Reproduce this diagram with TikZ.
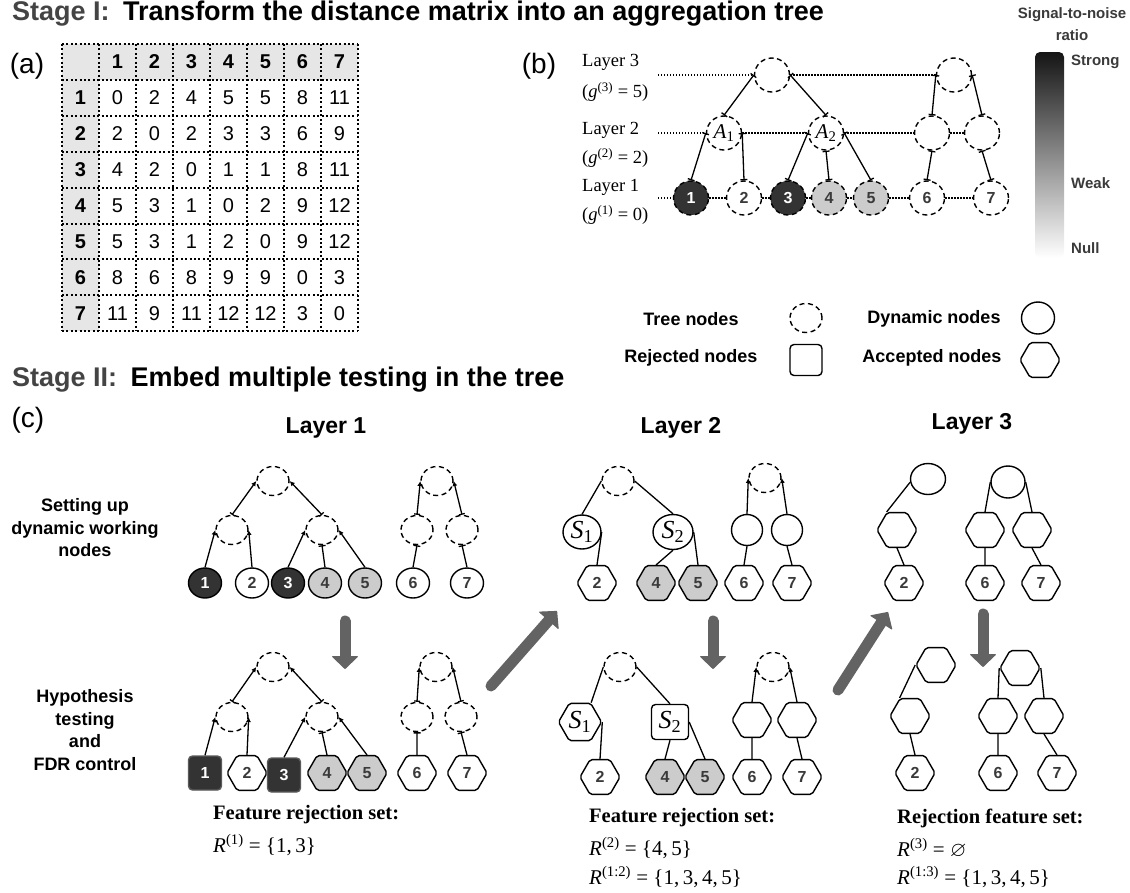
\documentclass[tikz,border=0pt]{standalone}
\usepackage{amsmath}
\usepackage{amssymb}
\usepackage{fontspec}
\setmainfont{Liberation Serif}
\setsansfont{Liberation Sans}
\usepackage{tikz}
\usetikzlibrary{shapes.geometric,arrows.meta}

\definecolor{hic}{HTML}{333333}
\definecolor{loc}{HTML}{CCCCCC}
\definecolor{stagec}{HTML}{444444}
\definecolor{headc}{HTML}{E6E6E6}
\definecolor{arrowc}{HTML}{636363}
\definecolor{numc}{HTML}{3A3A3A}
\definecolor{rejc}{HTML}{5A5A5A}

\tikzset{
  treenode/.style={ellipse, draw, line width=1.4pt, dash pattern=on 5pt off 3.5pt, minimum width=32pt, minimum height=29pt, inner sep=0pt},
  btree/.style={treenode, minimum width=35pt, minimum height=34pt},
  dynnode/.style={ellipse, draw, line width=1.4pt, minimum width=33pt, minimum height=30pt, inner sep=0pt},
  rejnode/.style={rectangle, draw, rounded corners=4pt, line width=1.4pt, minimum width=33pt, minimum height=34pt, inner sep=0pt},
  accnode/.style={regular polygon, regular polygon sides=6, draw, rounded corners=2pt, line width=1.4pt, minimum size=40pt, inner sep=0pt},
  num/.style={font=\sffamily\bfseries\fontsize{16}{16}\selectfont, text=numc},
  hisnr/.style={fill=hic, text=white},
  losnr/.style={fill=loc},
  bedge/.style={line width=1.3pt, {Bar[width=7pt]}-{Bar[width=7pt]}},
  upedge/.style={line width=1.3pt, -{Latex[length=5pt,width=5pt]}},
  upbar/.style={line width=1.3pt, {Bar[width=6pt]}-{Latex[length=5pt,width=5pt]}},
  teeedge/.style={line width=1.3pt, -{Bar[width=7pt]}},
  link/.style={line width=1.3pt},
  dotline/.style={line width=1.3pt, dash pattern=on 1.3pt off 1.7pt},
  dotgrid/.style={line width=2pt, dash pattern=on 2pt off 2.4pt},
  bigarrow/.style={draw=arrowc, line width=11pt, line cap=round, -{Triangle[length=13pt,width=27pt,line width=1pt,round,fill=arrowc]}},
  ttl/.style={font=\sffamily\bfseries\fontsize{27}{30}\selectfont, anchor=west, inner sep=0pt},
  panel/.style={font=\sffamily\fontsize{28}{30}\selectfont, inner sep=0pt},
  hdr/.style={font=\sffamily\bfseries\fontsize{23}{26}\selectfont, inner sep=0pt},
  side/.style={font=\sffamily\bfseries\fontsize{18}{22.5}\selectfont, align=center, inner sep=0pt},
  leg/.style={font=\sffamily\bfseries\fontsize{18}{20}\selectfont, inner sep=0pt},
  snr/.style={font=\sffamily\bfseries\fontsize{15}{22}\selectfont, text=numc, inner sep=0pt},
  lay/.style={font=\fontsize{18.5}{20}\selectfont, anchor=west, inner sep=0pt},
  rset/.style={font=\bfseries\fontsize{20.5}{22}\selectfont, anchor=west, inner sep=0pt},
  rmath/.style={font=\fontsize{21}{22}\selectfont, anchor=west, inner sep=0pt},
  cell/.style={font=\sffamily\fontsize{20}{22}\selectfont, inner sep=0pt},
  headcell/.style={font=\sffamily\bfseries\fontsize{20}{22}\selectfont, inner sep=0pt},
  mathlbl/.style={font=\fontsize{21}{21}\selectfont},
  bigmath/.style={font=\fontsize{26}{26}\selectfont}
}

\begin{document}
\begin{tikzpicture}[x=1pt, y=-1pt]
    \useasboundingbox (0,0) rectangle (1130,892);

    % 1. Titles and panel letters
    \node[ttl] (stage1) at (12,14) {\textcolor{stagec}{Stage I:}\enspace Transform the distance matrix into an aggregation tree};
    \node[ttl] (stage2) at (12,380) {\textcolor{stagec}{Stage II:}\enspace Embed multiple testing in the tree};
    \node[panel] (pa) at (27,66) {(a)};
    \node[panel] (pb) at (539,66) {(b)};
    \node[panel] (pc) at (28,420) {(c)};

    % 2. Distance matrix (a)
    \fill[headc] (62,44) rectangle (358,80);
    \fill[headc] (62,44) rectangle (99,331);
    \foreach \i in {1,...,7} {
        \node[headcell] (col\i) at ({80.5+37*\i},62) {\i};
        \node[headcell] (row\i) at (80.5,{62+35.9*\i}) {\i};
    }
    \foreach \row [count=\r] in {{0,2,4,5,5,8,11},{2,0,2,3,3,6,9},{4,2,0,1,1,8,11},{5,3,1,0,2,9,12},{5,3,1,2,0,9,12},{8,6,8,9,9,0,3},{11,9,11,12,12,3,0}} {
        \foreach \v [count=\c] in \row {
            \node[cell] (m\r\c) at ({80.5+37*\c},{62+35.9*\r}) {\v};
        }
    }
    \foreach \k in {0,...,8} {
        \draw[dotgrid] ({62+37*\k},44) -- ({62+37*\k},331);
        \draw[dotgrid] (62,{44+35.9*\k}) -- (358,{44+35.9*\k});
    }

    % 3. Aggregation tree (b)
    \node[lay] (lay3) at (582,62) {Layer 3};
    \node[lay] (gg3) at (582,92) {(\textit{g}\textsuperscript{(3)} = 5)};
    \node[lay] (lay2) at (582,130) {Layer 2};
    \node[lay] (gg2) at (582,158) {(\textit{g}\textsuperscript{(2)} = 2)};
    \node[lay] (lay1) at (582,187) {Layer 1};
    \node[lay] (gg1) at (582,215) {(\textit{g}\textsuperscript{(1)} = 0)};
    \coordinate (d3) at (658,75);
    \coordinate (d2) at (658,133);
    \coordinate (d1) at (658,198);

    \node[btree] (bt1) at (772,75) {};
    \node[btree] (bt2) at (954,75) {};
    \node[btree, mathlbl] (ba1) at (724,133) {\textit{A}\textsubscript{1}};
    \node[btree, mathlbl] (ba2) at (826,133) {\textit{A}\textsubscript{2}};
    \node[btree] (bb1) at (932,133) {};
    \node[btree] (bb2) at (982,133) {};
    \node[btree, num, hisnr] (bn1) at (691,198) {1};
    \node[btree, num] (bn2) at (744,198) {2};
    \node[btree, num, hisnr] (bn3) at (788,198) {3};
    \node[btree, num, losnr] (bn4) at (829,198) {4};
    \node[btree, num, losnr] (bn5) at (871,198) {5};
    \node[btree, num] (bn6) at (927,198) {6};
    \node[btree, num] (bn7) at (991,198) {7};

    \draw[dotline] (d3) -- (bt1) -- (bt2);
    \draw[dotline] (d2) -- (ba1) -- (ba2) -- (bb1) -- (bb2);
    \draw[dotline] (d1) -- (bn1) -- (bn2) -- (bn3) -- (bn4) -- (bn5) -- (bn6) -- (bn7);

    \draw[bedge] (ba1.north) -- (bt1.west);
    \draw[bedge] (ba2.north) -- (bt1.east);
    \draw[bedge] (bb1.north) -- (bt2.west);
    \draw[bedge] (bb2.north) -- (bt2.east);
    \draw[bedge] (bn1.north) -- (ba1.west);
    \draw[bedge] (bn2.north) -- (ba1.east);
    \draw[bedge] (bn3.north) -- (ba2.west);
    \draw[bedge] (bn4.north) -- (ba2.south);
    \draw[bedge] (bn5.north) -- (ba2.east);
    \draw[bedge] (bn6.north) -- (bb1.south);
    \draw[bedge] (bn7.north) -- (bb2.south);

    % 4. Signal-to-noise bar
    \node[snr, align=center] (snrlbl) at (1072,24) {Signal-to-noise\\ratio};
    \shade[top color=black!92, bottom color=white, rounded corners=5pt] (1035,52) rectangle (1064,258);
    \node[snr, anchor=west] (strong) at (1071,62) {Strong};
    \node[snr, anchor=west] (weak) at (1071,183) {Weak};
    \node[snr, anchor=west] (null) at (1071,248) {Null};

    % 5. Legend
    \node[leg] (lgtree) at (691,319) {Tree nodes};
    \node[treenode] (lgtreeshape) at (806,318) {};
    \node[leg] (lgrej) at (691,358) {Rejected nodes};
    \node[rejnode, minimum width=32pt, minimum height=31pt] (lgrejshape) at (806,360) {};
    \node[leg] (lgdyn) at (934,319) {Dynamic nodes};
    \node[dynnode, minimum width=33pt, minimum height=32pt] (lgdynshape) at (1038,318) {};
    \node[leg] (lgacc) at (932,358) {Accepted nodes};
    \node[accnode] (lgaccshape) at (1040,360) {};

    % 6. Stage II headings
    \node[hdr] (hl1) at (326,428) {Layer 1};
    \node[hdr] (hl2) at (681,428) {Layer 2};
    \node[hdr] (hl3) at (972,424) {Layer 3};
    \node[side] (setup) at (85,528) {Setting up\\dynamic working\\nodes};
    \node[side] (hyp) at (85,730) {Hypothesis\\testing\\and\\FDR control};

    % 7. Layer 1: dynamic nodes
    \node[treenode] (t1r) at (273,481) {};
    \node[treenode] (t1a) at (232,530) {};
    \node[treenode] (t1b) at (322,530) {};
    \node[treenode] (t1s) at (437,481) {};
    \node[treenode] (t1c) at (417,530) {};
    \node[treenode] (t1d) at (462,530) {};
    \node[dynnode, num, hisnr] (t1n1) at (205,583) {1};
    \node[dynnode, num] (t1n2) at (252,583) {2};
    \node[dynnode, num, hisnr] (t1n3) at (288,583) {3};
    \node[dynnode, num, losnr] (t1n4) at (325,583) {4};
    \node[dynnode, num, losnr] (t1n5) at (365,583) {5};
    \node[dynnode, num] (t1n6) at (413,583) {6};
    \node[dynnode, num] (t1n7) at (467,583) {7};
    \draw[upbar] (t1a.north) -- (t1r.west);
    \draw[upbar] (t1b.north) -- (t1r.east);
    \draw[upedge] (t1n1.north) -- (t1a.west);
    \draw[upedge] (t1n2.north) -- (t1a.east);
    \draw[upedge] (t1n3.north) -- (t1b.west);
    \draw[teeedge] (t1n4.north) -- (t1b.south);
    \draw[upedge] (t1n5.north) -- (t1b.east);
    \draw[upbar] (t1c.north) -- (t1s.west);
    \draw[upbar] (t1d.north) -- (t1s.east);
    \draw[teeedge] (t1n6.north) -- (t1c.south);
    \draw[teeedge] (t1n7.north) -- (t1d.south);

    % 8. Layer 1: testing
    \node[treenode] (h1r) at (273,667) {};
    \node[treenode] (h1a) at (232,717) {};
    \node[treenode] (h1b) at (322,717) {};
    \node[treenode] (h1s) at (436,667) {};
    \node[treenode] (h1c) at (417,717) {};
    \node[treenode] (h1d) at (461,717) {};
    \node[rejnode, num, hisnr, draw=rejc] (h1n1) at (205,773) {1};
    \node[accnode, num] (h1n2) at (247,773) {2};
    \node[rejnode, num, hisnr, draw=rejc] (h1n3) at (284,775) {3};
    \node[accnode, num, losnr] (h1n4) at (327,773) {4};
    \node[accnode, num, losnr] (h1n5) at (367,773) {5};
    \node[accnode, num] (h1n6) at (417,773) {6};
    \node[accnode, num] (h1n7) at (467,773) {7};
    \draw[upbar] (h1a.north) -- (h1r.west);
    \draw[upbar] (h1b.north) -- (h1r.east);
    \draw[upedge] (h1n1.north) -- (h1a.west);
    \draw[upedge] (h1n2.north) -- (h1a.east);
    \draw[upedge] (h1n3.north) -- (h1b.west);
    \draw[teeedge] (h1n4.north) -- (h1b.south);
    \draw[upedge] (h1n5.north) -- (h1b.east);
    \draw[upbar] (h1c.north) -- (h1s.west);
    \draw[upbar] (h1d.north) -- (h1s.east);
    \draw[teeedge] (h1n6.north) -- (h1c.south);
    \draw[teeedge] (h1n7.north) -- (h1d.south);
    \node[rset] (feat1) at (213,815) {Feature rejection set:};
    \node[rmath] (rej1) at (213,845) {\textit{R}\textsuperscript{(1)} = \{1,\,3\}};

    % 9. Layer 2: dynamic nodes
    \node[treenode] (t2r) at (618,481) {};
    \node[dynnode, bigmath, minimum width=38pt, minimum height=34pt] (t2s1) at (582,532) {\textit{S}\textsubscript{1}};
    \node[dynnode, bigmath, minimum width=40pt, minimum height=35pt] (t2s2) at (673,532) {\textit{S}\textsubscript{2}};
    \node[accnode, num] (t2n2) at (597,583) {2};
    \node[accnode, num, losnr] (t2n4) at (656,583) {4};
    \node[accnode, num, losnr] (t2n5) at (698,583) {5};
    \node[accnode, num] (t2n6) at (744,583) {6};
    \node[accnode, num] (t2n7) at (792,583) {7};
    \node[treenode] (t2t) at (765,478) {};
    \node[dynnode, minimum width=31pt, minimum height=31pt] (t2c) at (747,530) {};
    \node[dynnode, minimum width=31pt, minimum height=31pt] (t2d) at (787,530) {};
    \draw[link] (t2r.west) -- (t2s1.north);
    \draw[link] (t2r.east) -- (t2s2.north);
    \draw[link] (t2s1.east) -- (t2n2.north);
    \draw[link] (t2s2.south) -- (t2n4.north);
    \draw[link] (t2s2.east) -- (t2n5.north);
    \draw[upedge] (t2c.north) -- (t2t.west);
    \draw[upedge] (t2d.north) -- (t2t.east);
    \draw[link] (t2c.south) -- (t2n6.north);
    \draw[link] (t2d.south) -- (t2n7.north);

    % 10. Layer 2: testing
    \node[treenode] (h2r) at (620,667) {};
    \node[accnode, bigmath, minimum size=43pt] (h2s1) at (580,722) {\textit{S}\textsubscript{1}};
    \node[rejnode, bigmath, minimum width=37pt, minimum height=35pt] (h2s2) at (670,722) {\textit{S}\textsubscript{2}};
    \node[accnode, num] (h2n2) at (600,777) {2};
    \node[accnode, num, losnr] (h2n4) at (665,777) {4};
    \node[accnode, num, losnr] (h2n5) at (705,777) {5};
    \node[accnode, num] (h2n6) at (752,777) {6};
    \node[accnode, num] (h2n7) at (802,777) {7};
    \node[treenode] (h2t) at (773,667) {};
    \node[accnode] (h2c) at (752,720) {};
    \node[accnode] (h2d) at (797,720) {};
    \draw[link] (h2r.west) -- (h2s1.60);
    \draw[link] (h2r.east) -- (h2s2.north);
    \draw[link] (h2s1.east) -- (h2n2.north);
    \draw[link] (h2s2.south) -- (h2n4.north);
    \draw[link] (h2s2.east) -- (h2n5.north);
    \draw[upedge] (h2c.north) -- (h2t.west);
    \draw[upedge] (h2d.north) -- (h2t.east);
    \draw[link] (h2c.south) -- (h2n6.north);
    \draw[link] (h2d.south) -- (h2n7.north);
    \node[rset] (feat2) at (589,818) {Feature rejection set:};
    \node[rmath] (rej2) at (589,848) {\textit{R}\textsuperscript{(2)} = \{4,\,5\}};
    \node[rmath] (rej12) at (589,877) {\textit{R}\textsuperscript{(1:2)} = \{1,\,3,\,4,\,5\}};

    % 11. Layer 3: dynamic nodes
    \node[dynnode, minimum width=35pt, minimum height=31pt] (t3r) at (928,479) {};
    \node[accnode] (t3a) at (897,530) {};
    \node[accnode, num] (t3n2) at (904,583) {2};
    \node[dynnode, minimum width=34pt, minimum height=32pt] (t3s) at (1008,482) {};
    \node[accnode] (t3b) at (985,530) {};
    \node[accnode] (t3c) at (1032,530) {};
    \node[accnode, num] (t3n6) at (985,583) {6};
    \node[accnode, num] (t3n7) at (1041,583) {7};
    \draw[link] (t3r.190) -- (t3a.120);
    \draw[link] (t3a.south) -- (t3n2.north);
    \draw[link] (t3s.west) -- (t3b.north);
    \draw[link] (t3s.east) -- (t3c.north);
    \draw[link] (t3b.south) -- (t3n6.north);
    \draw[link] (t3c.south) -- (t3n7.north);

    % 12. Layer 3: testing
    \node[accnode] (h3r) at (936,665) {};
    \node[accnode] (h3a) at (910,716) {};
    \node[accnode, num] (h3n2) at (915,773) {2};
    \node[accnode] (h3s) at (1020,668) {};
    \node[accnode] (h3b) at (998,716) {};
    \node[accnode] (h3c) at (1044,716) {};
    \node[accnode, num] (h3n6) at (998,773) {6};
    \node[accnode, num] (h3n7) at (1057,773) {7};
    \draw[link] (h3r.west) -- (h3a.120);
    \draw[link] (h3a.south) -- (h3n2.north);
    \draw[link] (h3s.west) -- (h3b.north);
    \draw[link] (h3s.east) -- (h3c.north);
    \draw[link] (h3b.south) -- (h3n6.north);
    \draw[link] (h3c.south) -- (h3n7.north);
    \node[rset] (feat3) at (897,818) {Rejection feature set:};
    \node[rmath] (rej3) at (897,848) {\textit{R}\textsuperscript{(3)} = $\varnothing$};
    \node[rmath] (rej13) at (897,877) {\textit{R}\textsuperscript{(1:3)} = \{1,\,3,\,4,\,5\}};

    % 13. Big grey arrows between steps
    \coordinate (a1s) at (345,621);
    \coordinate (a1e) at (345,669);
    \coordinate (a2s) at (713,621);
    \coordinate (a2e) at (713,669);
    \coordinate (a3s) at (983,614);
    \coordinate (a3e) at (983,667);
    \coordinate (g1s) at (491,686);
    \coordinate (g1e) at (557,611);
    \coordinate (g2s) at (838,690);
    \coordinate (g2e) at (888,612);
    \draw[bigarrow] (a1s) -- (a1e);
    \draw[bigarrow] (a2s) -- (a2e);
    \draw[bigarrow] (a3s) -- (a3e);
    \draw[bigarrow] (g1s) -- (g1e);
    \draw[bigarrow] (g2s) -- (g2e);
\end{tikzpicture}
\end{document}
